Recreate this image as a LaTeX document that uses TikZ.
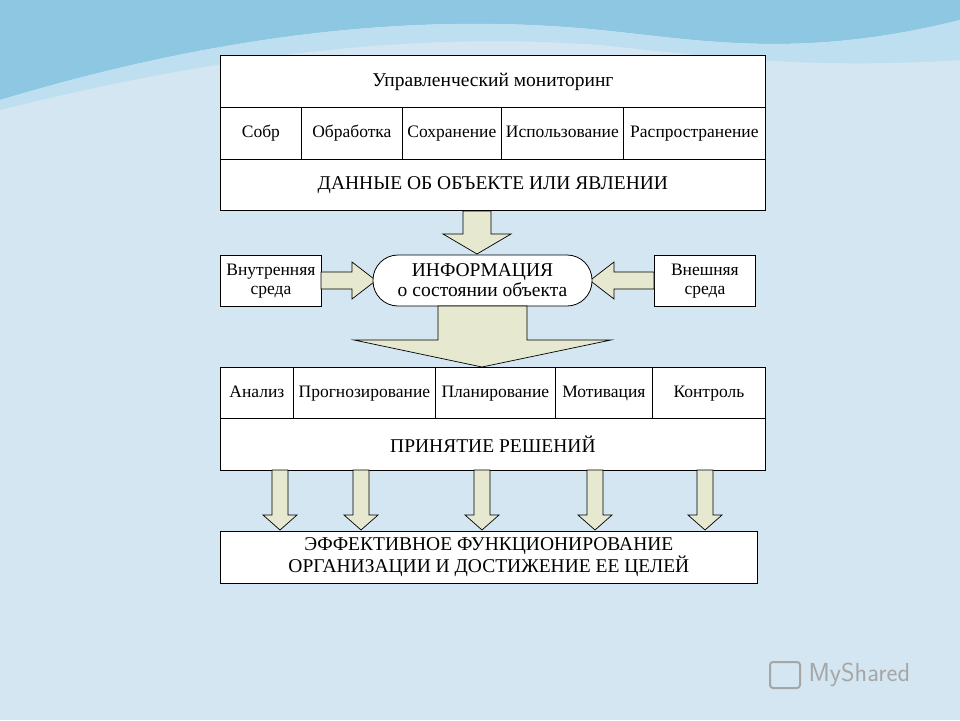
\documentclass[tikz,border=0pt]{standalone}
\usepackage{fontspec}
\setmainfont{Liberation Serif}
\definecolor{bgc}{HTML}{D3E6F1}
\definecolor{topc}{HTML}{5DAFD6}
\definecolor{arr}{HTML}{E6E8CF}
\tikzset{
 box/.style={draw=black,fill=white,line width=0.8pt},
 cell/.style={draw=black,fill=white,line width=0.8pt,inner sep=0pt,text height=12pt,text depth=3pt},
 ar/.style={draw=black,fill=arr,line width=0.7pt},
 tx/.style={font=\fontsize{19.5}{20}\selectfont,align=center},
 sm/.style={font=\fontsize{17.5}{18.5}\selectfont,align=center}
}
\begin{document}
\begin{tikzpicture}[x=1pt,y=-1pt]
\useasboundingbox (0,0) rectangle (960,720);
\fill[bgc] (0,0) rectangle (960,720);
\fill[topc!70!white] (0,0) -- (960,0) -- (960,20) .. controls (800,60) and (700,40) .. (600,30) .. controls (400,10) and (200,40) .. (0,100) -- cycle;
\fill[topc!40!white] (0,100) .. controls (200,40) and (400,10) .. (600,30) .. controls (700,40) and (800,60) .. (960,20) -- (960,60) .. controls (800,70) and (700,55) .. (600,45) .. controls (400,30) and (200,60) .. (0,110) -- cycle;
% top block
\node[box,minimum width=545,minimum height=52,anchor=north west,tx] (t1) at (220,55) {Управленческий мониторинг};
\node[cell,minimum width=81,minimum height=52,anchor=north west,sm] (c1) at (220,107) {Собр};
\node[cell,minimum width=101,minimum height=52,anchor=north west,sm] (c2) at (301,107) {Обработка};
\node[cell,minimum width=99,minimum height=52,anchor=north west,sm] (c3) at (402,107) {Сохранение};
\node[cell,minimum width=122,minimum height=52,anchor=north west,sm] (c4) at (501,107) {Использование};
\node[cell,minimum width=142,minimum height=52,anchor=north west,sm] (c5) at (623,107) {Распространение};
\node[box,minimum width=545,minimum height=51,anchor=north west,tx] (t3) at (220,159) {ДАННЫЕ ОБ ОБЪЕКТЕ ИЛИ ЯВЛЕНИИ};
% down arrow
\draw[ar] (463,211) -- (491,211) -- (491,234) -- (511,234) -- (477,254) -- (443,234) -- (463,234) -- cycle;
% middle row
\node[box,minimum width=101,minimum height=51,anchor=north west,sm] (in) at (220,255) {Внутренняя\\среда};
\node[box,minimum width=101,minimum height=51,anchor=north west,sm] (ex) at (654,255) {Внешняя\\среда};
\draw[ar] (321,272) -- (352,272) -- (352,262) -- (376,280.5) -- (352,299) -- (352,289) -- (321,289) -- cycle;
\draw[ar] (654,272) -- (614,272) -- (614,262) -- (590,280.5) -- (614,299) -- (614,289) -- (654,289) -- cycle;
\draw[box,rounded corners=25] (373,255) rectangle (592,306);
\node[tx] (inf) at (482.5,280.5) {ИНФОРМАЦИЯ\\о состоянии объекта};
% big arrow
\draw[ar] (438,306) -- (527,306) -- (527,340) -- (611,340) -- (482,367) -- (354,340) -- (438,340) -- cycle;
% second block
\node[cell,minimum width=73,minimum height=51,anchor=north west,sm] (d1) at (220,367) {Анализ};
\node[cell,minimum width=142,minimum height=51,anchor=north west,sm] (d2) at (293,367) {Прогнозирование};
\node[cell,minimum width=120,minimum height=51,anchor=north west,sm] (d3) at (435,367) {Планирование};
\node[cell,minimum width=97,minimum height=51,anchor=north west,sm] (d4) at (555,367) {Мотивация};
\node[cell,minimum width=113,minimum height=51,anchor=north west,sm] (d5) at (652,367) {Контроль};
\node[box,minimum width=545,minimum height=52,anchor=north west,tx] (pr) at (220,418) {ПРИНЯТИЕ РЕШЕНИЙ};
% small arrows
\foreach \x in {280,361,482,595,705}{
 \draw[ar] (\x-8,470) -- (\x+8,470) -- (\x+8,515) -- (\x+17,515) -- (\x,530) -- (\x-17,515) -- (\x-8,515) -- cycle;
}
\node[box,minimum width=537,minimum height=52,anchor=north west,tx] (ef) at (220,531) {ЭФФЕКТИВНОЕ ФУНКЦИОНИРОВАНИЕ\\ОРГАНИЗАЦИИ И ДОСТИЖЕНИЕ ЕЕ ЦЕЛЕЙ};
\node[font=\fontsize{26}{28}\selectfont\sffamily,text=gray!70,anchor=west] (logo) at (805,675) {MyShared};
\draw[gray!70,line width=2pt,rounded corners=3] (770,662) rectangle (800,688);
\end{tikzpicture}
\end{document}
